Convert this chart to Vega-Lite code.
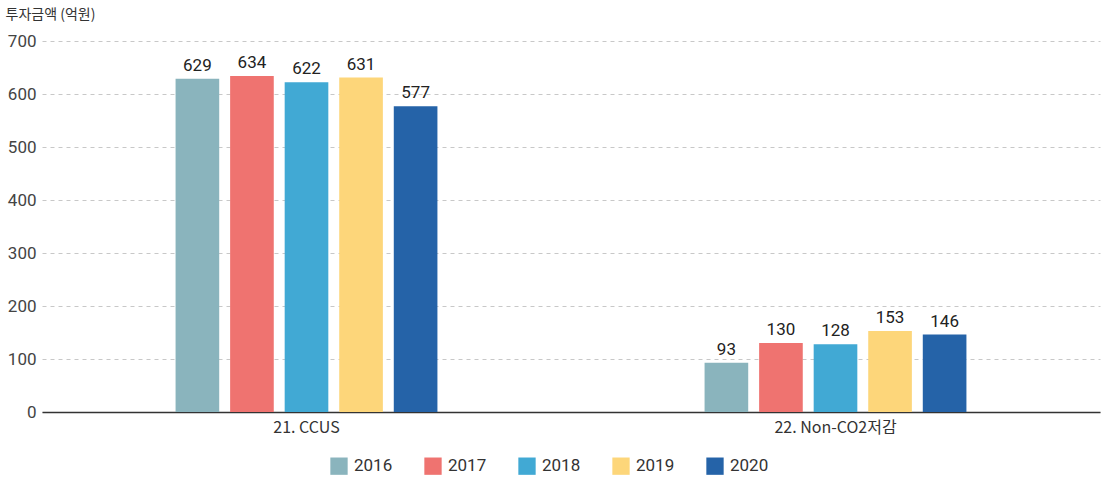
{
  "$schema": "https://vega.github.io/schema/vega-lite/v6.json",
  "width": 1058,
  "height": 371,
  "autosize": {"type": "none"},
  "padding": {"left": 42, "top": 41, "right": 5, "bottom": 70},
  "background": "white",
  "config": {
    "view": {"stroke": null},
    "font": "Roboto",
    "axis": {"labelFont": "Roboto", "titleFont": "Noto Sans CJK KR"}
  },
  "data": {
    "values": [
      {"category": "21. CCUS", "year": "2016", "value": 629},
      {"category": "21. CCUS", "year": "2017", "value": 634},
      {"category": "21. CCUS", "year": "2018", "value": 622},
      {"category": "21. CCUS", "year": "2019", "value": 631},
      {"category": "21. CCUS", "year": "2020", "value": 577},
      {"category": "22. Non-CO2저감", "year": "2016", "value": 93},
      {"category": "22. Non-CO2저감", "year": "2017", "value": 130},
      {"category": "22. Non-CO2저감", "year": "2018", "value": 128},
      {"category": "22. Non-CO2저감", "year": "2019", "value": 153},
      {"category": "22. Non-CO2저감", "year": "2020", "value": 146}
    ]
  },
  "encoding": {
    "x": {
      "field": "category",
      "type": "nominal",
      "sort": null,
      "scale": {"paddingInner": 0.505, "paddingOuter": 0.2525},
      "axis": {
        "title": null,
        "labelAngle": 0,
        "labelFontSize": 16,
        "labelColor": "#333333",
        "labelFont": "Noto Sans CJK KR",
        "labelPadding": 7,
        "ticks": false,
        "domainColor": "#333333",
        "domainWidth": 1.5
      }
    },
    "xOffset": {"field": "year", "type": "nominal", "scale": {"paddingInner": 0.2}},
    "y": {
      "field": "value",
      "type": "quantitative",
      "scale": {"domain": [0, 700]},
      "axis": {
        "values": [0, 100, 200, 300, 400, 500, 600, 700],
        "title": "투자금액 (억원)",
        "titleAngle": 0,
        "titleX": -37,
        "titleY": -27,
        "titleAlign": "left",
        "titleBaseline": "middle",
        "titleFontSize": 14,
        "titleFontWeight": "normal",
        "titleColor": "#333333",
        "labelFontSize": 17,
        "labelColor": "#444444",
        "labelPadding": 6,
        "ticks": false,
        "domain": false,
        "grid": true,
        "gridDash": [4, 4],
        "gridColor": "#c8c8c8"
      }
    }
  },
  "layer": [
    {
      "mark": {"type": "bar"},
      "encoding": {
        "color": {
          "field": "year",
          "type": "nominal",
          "scale": {
            "domain": ["2016", "2017", "2018", "2019", "2020"],
            "range": ["#8AB4BD", "#EF7370", "#41A9D4", "#FDD67A", "#2563A8"]
          },
          "legend": {
            "title": null,
            "orient": "none",
            "direction": "horizontal",
            "legendX": 288,
            "legendY": 416,
            "symbolType": "square",
            "symbolSize": 300,
            "symbolStrokeWidth": 0,
            "symbolOpacity": 1,
            "labelFontSize": 17,
            "labelColor": "#333333",
            "labelOffset": 6,
            "columnPadding": 31
          }
        }
      }
    },
    {
      "mark": {"type": "text", "baseline": "bottom", "dy": -4, "fontSize": 17, "color": "#222222"},
      "encoding": {"text": {"field": "value", "type": "quantitative"}}
    }
  ]
}
